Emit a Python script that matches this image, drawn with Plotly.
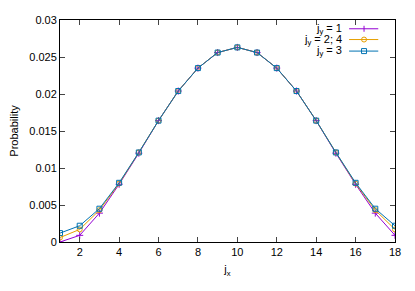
import plotly.graph_objects as go

jx = list(range(1, 19))
p_jy1 = [0.0000, 0.0009, 0.0039, 0.0078, 0.0120, 0.0164, 0.0204, 0.0235, 0.0256, 0.0263,
         0.0256, 0.0235, 0.0204, 0.0164, 0.0120, 0.0078, 0.0039, 0.0009]
p_jy24 = [0.0006, 0.0017, 0.0043, 0.0079, 0.0121, 0.0164, 0.0204, 0.0235, 0.0256, 0.0263,
          0.0256, 0.0235, 0.0204, 0.0164, 0.0121, 0.0079, 0.0043, 0.0017]
p_jy3 = [0.0012, 0.0022, 0.0045, 0.0080, 0.0121, 0.0164, 0.0204, 0.0235, 0.0256, 0.0263,
         0.0256, 0.0235, 0.0204, 0.0164, 0.0121, 0.0080, 0.0045, 0.0022]
names = ["j<sub>y</sub> = 1", "j<sub>y</sub> = 2; 4", "j<sub>y</sub> = 3"]
x_ticks = [2, 4, 6, 8, 10, 12, 14, 16, 18]
y_ticks = [0, 0.005, 0.01, 0.015, 0.02, 0.025, 0.03]
y_labels = ["0", "0.005", "0.01", "0.015", "0.02", "0.025", "0.03"]

colors = ["#9400D3", "#E69F00", "#0072B2"]
symbols = ["cross-thin-open", "circle-open", "square-open"]
series = [p_jy1, p_jy24, p_jy3]

fig = go.Figure()
for s, c, m, n in zip(series, colors, symbols, names):
    fig.add_trace(go.Scatter(
        x=jx, y=s, mode="lines+markers", name=n, showlegend=False,
        line=dict(color=c, width=1),
        marker=dict(symbol=m, size=5, color=c, line=dict(color=c, width=1)),
    ))

# gnuplot-style key: text right-aligned, sample to its right
key_rows = [0.9605, 0.912, 0.860]
text_x, line_x0, line_x1, mark_x = 0.848, 0.863, 0.950, 0.9076
annotations = []
shapes = []
for n, c, m, yk in zip(names, colors, symbols, key_rows):
    annotations.append(dict(text=n, x=text_x, y=yk, xref="paper", yref="paper",
                            xanchor="right", yanchor="middle", showarrow=False,
                            font=dict(size=11, color="black")))
    shapes.append(dict(type="line", xref="paper", yref="paper", x0=line_x0, x1=line_x1,
                       y0=yk, y1=yk, line=dict(color=c, width=1)))
    if m == "circle-open":
        shapes.append(dict(type="circle", xref="paper", yref="paper",
                           xsizemode="pixel", ysizemode="pixel", xanchor=mark_x, yanchor=yk,
                           x0=-2.5, x1=2.5, y0=-2.5, y1=2.5, line=dict(color=c, width=1)))
    elif m == "square-open":
        shapes.append(dict(type="rect", xref="paper", yref="paper",
                           xsizemode="pixel", ysizemode="pixel", xanchor=mark_x, yanchor=yk,
                           x0=-2.5, x1=2.5, y0=-2.5, y1=2.5, line=dict(color=c, width=1)))
    else:
        shapes.append(dict(type="line", xref="paper", yref="paper",
                           xsizemode="pixel", ysizemode="pixel", xanchor=mark_x, yanchor=yk,
                           x0=0, x1=0, y0=-3, y1=3, line=dict(color=c, width=1)))

font = dict(family="Liberation Sans, Arial, sans-serif", size=11, color="black")
fig.update_layout(
    width=399, height=275,
    margin=dict(l=33, r=9, t=6, b=41),
    paper_bgcolor="white", plot_bgcolor="white",
    font=font,
    showlegend=False,
    annotations=annotations,
    shapes=shapes,
)
fig.update_xaxes(range=[1, 18], tickvals=x_ticks, ticks="inside", ticklen=5,
                 showline=True, linecolor="black", linewidth=1, mirror="ticks",
                 showgrid=False, zeroline=False, tickfont=dict(size=11),
                 title=dict(text="j<sub>x</sub>", standoff=8, font=dict(size=11)))
fig.update_yaxes(range=[0, 0.03], tickvals=y_ticks, ticktext=y_labels, ticks="inside",
                 ticklen=5, showline=True, linecolor="black", linewidth=1, mirror="ticks",
                 showgrid=False, zeroline=False, tickfont=dict(size=11),
                 title=dict(text="Probability", standoff=8, font=dict(size=11)))
fig.write_html("out.html")
